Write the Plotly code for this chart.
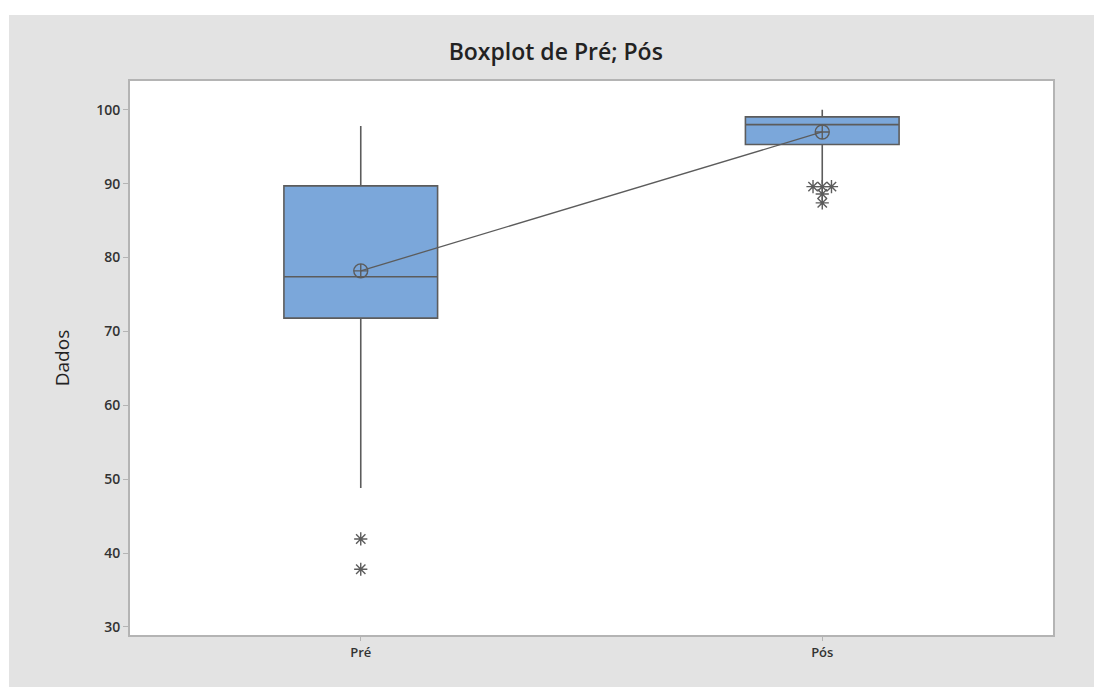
import plotly.graph_objects as go

# Summary statistics per group
groups = ["Pré", "Pós"]
positions = [0, 1]
q1 = [71.8, 95.3]
median = [77.4, 98.0]
q3 = [89.7, 99.05]
lower_whisker = [48.8, 90.0]
upper_whisker = [97.8, 100.0]
means = [78.2, 97.0]

# Outliers (value, group index, small horizontal spread for tied values)
outlier_values = [41.9, 37.8, 89.6, 89.6, 89.6, 88.6, 87.4]
outlier_group = [0, 0, 1, 1, 1, 1, 1]
outlier_spread = [0.0, 0.0, -0.02, 0.0, 0.02, 0.0, 0.0]

y_ticks = [30, 40, 50, 60, 70, 80, 90, 100]

box_fill = "#7BA7DA"
line_col = "#5C5C5C"
bg_grey = "#E3E3E3"
FONT = "Open Sans, DejaVu Sans, sans-serif"

fig = go.Figure()

for i, g in enumerate(groups):
    fig.add_trace(go.Box(
        x=[positions[i]], q1=[q1[i]], median=[median[i]], q3=[q3[i]],
        lowerfence=[lower_whisker[i]], upperfence=[upper_whisker[i]],
        name=g, width=0.333, whiskerwidth=0,
        fillcolor=box_fill, line=dict(color=line_col, width=1.6),
        boxpoints=False, showlegend=False, hoverinfo="skip",
    ))

# Line joining the group means
fig.add_trace(go.Scatter(
    x=positions, y=means, mode="lines+markers",
    line=dict(color=line_col, width=1.3),
    marker=dict(symbol="circle-cross-open", size=14,
                color=line_col, line=dict(width=1.4, color=line_col)),
    showlegend=False, hoverinfo="skip",
))

# Outliers drawn as asterisks
ox = [positions[g] + s for g, s in zip(outlier_group, outlier_spread)]
fig.add_trace(go.Scatter(
    x=ox, y=outlier_values, mode="markers",
    marker=dict(symbol="asterisk-open", size=11, color=line_col,
                line=dict(width=1.4, color=line_col)),
    showlegend=False, hoverinfo="skip",
))

# Thin white edge along the top and left of the grey panel
fig.add_shape(type="rect", xref="paper", yref="paper",
              x0=(0 - 130) / 923, x1=(1100 - 130) / 923,
              y0=(635 - 15) / 554, y1=(635 + 5) / 554,
              fillcolor="white", line=dict(width=0), layer="below")
fig.add_shape(type="rect", xref="paper", yref="paper",
              x0=(-5 - 130) / 923, x1=(9 - 130) / 923,
              y0=(635 - 690) / 554, y1=(635 + 5) / 554,
              fillcolor="white", line=dict(width=0), layer="below")

fig.update_layout(
    width=1094, height=687,
    margin=dict(l=130, r=41, t=81, b=52),
    paper_bgcolor=bg_grey, plot_bgcolor="white",
    font=dict(family=FONT, color="#333333"),
    title=dict(text="Boxplot de Pré; Pós", x=0.508, xref="container",
               y=1 - 52 / 687, yanchor="middle",
               font=dict(size=23, color="#222222", family=FONT, weight=600)),
)

fig.update_xaxes(
    range=[-0.5, 1.5], tickvals=positions, ticktext=groups,
    showgrid=False, zeroline=False,
    showline=True, mirror=True, linecolor="#B4B4B4", linewidth=2,
    ticks="outside", ticklen=4, tickcolor="#B4B4B4",
    tickfont=dict(size=13, color="#333333", weight=600),
)
fig.update_yaxes(
    range=[28.9, 103.9], tickvals=y_ticks,
    showgrid=False, zeroline=False,
    showline=True, mirror=True, linecolor="#B4B4B4", linewidth=2,
    ticks="outside", ticklen=5, tickcolor="#B4B4B4",
    tickfont=dict(size=14, color="#333333", weight=600),
    title=dict(text="Dados", font=dict(size=19, color="#222222", weight=500),
               standoff=22),
)

fig.write_html("out.html")
